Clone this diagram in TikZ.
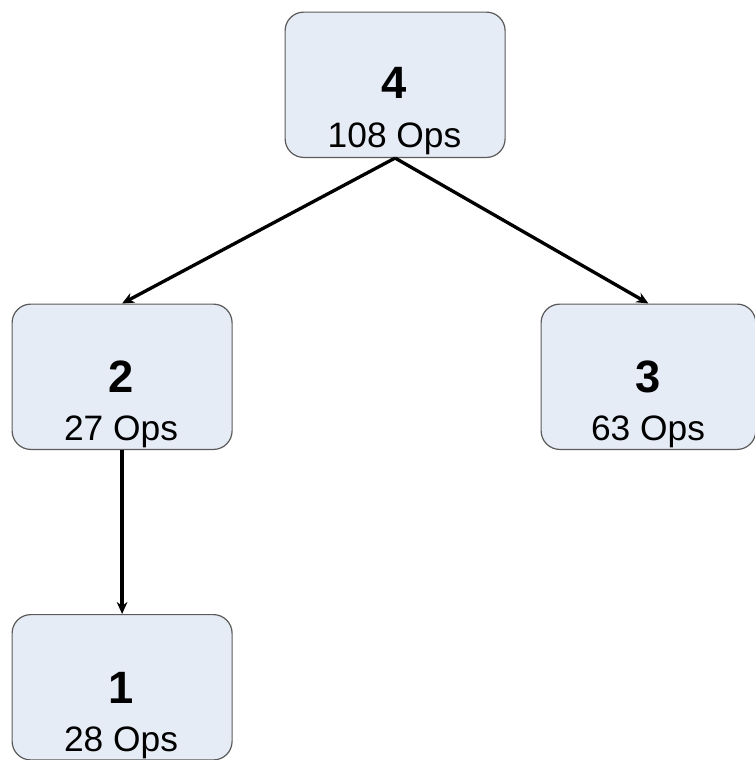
\documentclass[tikz,border=0pt]{standalone}
\usepackage{fontspec}
\setmainfont{Liberation Sans}
\usetikzlibrary{arrows.meta}
\definecolor{boxfill}{HTML}{E6ECF6}
\definecolor{boxline}{HTML}{5A5A5A}
\begin{document}
\begin{tikzpicture}[x=0.75pt,y=-0.75pt,
  opbox/.style={draw=boxline,line width=0.9pt,fill=boxfill,rounded corners=14pt,
    minimum width=165pt,minimum height=109pt,inner sep=0pt,align=center,anchor=north west},
  num/.style={font=\fontsize{34}{36}\selectfont\bfseries,anchor=base,inner sep=0pt},
  ops/.style={font=\fontsize{26.5}{28}\selectfont,anchor=base,inner sep=0pt},
  conn/.style={line width=2.5pt,-{Stealth[length=9pt,width=8pt]}}]
\useasboundingbox (0,0) rectangle (754,760);
\node[opbox] (n4) at (284.5,11.5) {};
\node[opbox] (n2) at (11.5,303.5) {};
\node[opbox,minimum width=161pt] (n3) at (540.5,303.5) {};
\node[opbox] (n1) at (11.5,614) {};
\node[num] (t4) at (394.5,98) {4};
\node[ops] (o4) at (394.5,147) {108 Ops};
\node[num] (t2) at (121,392) {2};
\node[ops] (o2) at (121,440) {27 Ops};
\node[num] (t3) at (648,392) {3};
\node[ops] (o3) at (648,440) {63 Ops};
\node[num] (t1) at (121,703) {1};
\node[ops] (o1) at (121,751) {28 Ops};
\draw[conn] (n4.south) -- (n2.north);
\draw[conn] (n4.south) -- (n3.north);
\draw[conn] (n2.south) -- (n1.north);
\end{tikzpicture}
\end{document}
